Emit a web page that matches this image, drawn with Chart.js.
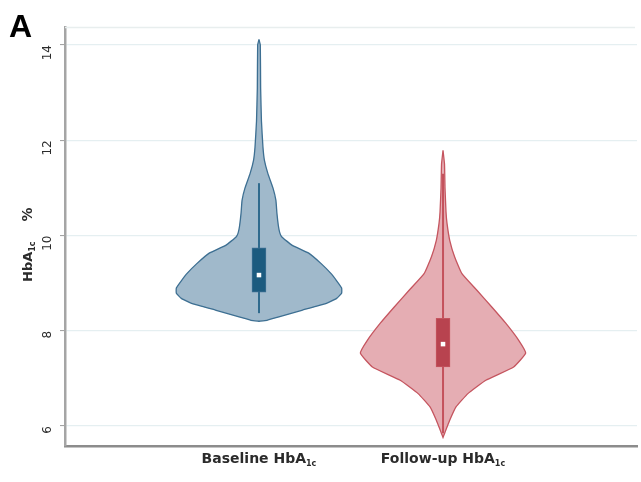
<!DOCTYPE html>
<html>
<head>
<meta charset="utf-8">
<script src="https://cdn.jsdelivr.net/npm/chart.js@4/dist/chart.umd.min.js"></script>
<style>
  html, body { margin: 0; padding: 0; background: #ffffff; }
  #wrap { width: 641px; height: 482px; position: relative; }
</style>
</head>
<body>
<div id="wrap"><canvas id="chart"></canvas></div>
<script>
// Groups and their positions on the x axis
const groupNames = ['Baseline HbA', 'Follow-up HbA'];
const groupPos = [1, 2];
const yTicks = [6, 8, 10, 12, 14];

// Kernel density outline (HbA1c level, relative density 0-100)
const baselineLevels  = [14.12, 14.0, 13.1, 12.4, 11.86, 11.58, 11.3, 11.0, 10.74, 10.47, 10.2, 10.05, 9.97, 9.8, 9.63, 9.4, 9.21, 9.05, 8.9, 8.79, 8.68, 8.57, 8.43, 8.29, 8.22, 8.2];
const baselineDensity = [0, 1.6, 2, 3, 4.8, 6.6, 10.8, 16.9, 20.5, 21.7, 23.5, 25.3, 27.7, 39.8, 60.2, 75.9, 86.7, 94, 100, 100, 94, 80.7, 51.8, 24.1, 9.6, 0];
const followLevels    = [11.79, 11.5, 11.0, 10.5, 10.26, 9.9, 9.55, 9.2, 8.85, 8.5, 8.16, 7.8, 7.53, 7.24, 6.96, 6.68, 6.4, 6.12, 5.85, 5.76];
const followDensity   = [0, 1.8, 2.4, 3.6, 4.8, 8.1, 14.1, 22.9, 41, 59, 75.9, 91.6, 100, 85.5, 51.8, 30.1, 15.7, 8.1, 2, 0];

// Box summaries: lower quartile, median, upper quartile, whisker ends
const q1      = [8.81, 7.24];
const medians = [9.17, 7.72];
const q3      = [9.74, 8.26];
const whiskLo = [8.37, 5.85];
const whiskHi = [11.1, 11.3];

const fills    = ['rgba(160,185,203,1)', 'rgba(229,173,179,1)'];
const outlines = ['#3d6f92', '#c5555f'];
const boxFill  = ['#1c5b7f', '#b8434f'];
const whiskCol = ['#2f6a8d', '#c4525c'];

const HALF_WIDTH = 0.449; // x-units for density 100

function violinPoints(center, levels, dens) {
  const right = levels.map((v, i) => ({ x: center + dens[i] / 100 * HALF_WIDTH, y: v }));
  const left = levels.map((v, i) => ({ x: center - dens[i] / 100 * HALF_WIDTH, y: v })).reverse();
  return right.concat(left);
}

const violinData = [
  violinPoints(groupPos[0], baselineLevels, baselineDensity),
  violinPoints(groupPos[1], followLevels, followDensity)
];

const datasets = [];
for (let g = 0; g < 2; g++) {
  datasets.push({
    type: 'scatter',
    data: violinData[g],
    showLine: true,
    fill: 'shape',
    backgroundColor: fills[g],
    borderColor: outlines[g],
    borderWidth: 1.3,
    tension: 0.12,
    pointRadius: 0,
    order: 10
  });
  datasets.push({
    type: 'scatter',
    data: [{ x: groupPos[g], y: whiskLo[g] }, { x: groupPos[g], y: whiskHi[g] }],
    showLine: true,
    borderColor: whiskCol[g],
    borderWidth: 2,
    pointRadius: 0,
    order: 8
  });
}
datasets.push({
  type: 'bar',
  data: groupPos.map((p, i) => ({ x: p, y: [q1[i], q3[i]] })),
  backgroundColor: boxFill,
  borderColor: outlines,
  borderWidth: 1,
  borderSkipped: false,
  barThickness: 14,
  order: 5
});
datasets.push({
  type: 'scatter',
  data: groupPos.map((p, i) => ({ x: p, y: medians[i] })),
  pointStyle: 'rect',
  pointRadius: 3.2,
  backgroundColor: '#ffffff',
  borderWidth: 0,
  order: 1
});

function drawSubText(ctx, parts, x, y, align) {
  // parts: [{text, font, dy, gap}]
  let total = 0;
  const widths = parts.map(p => {
    ctx.font = p.font;
    const w = ctx.measureText(p.text).width + (p.gap || 0);
    total += w;
    return w;
  });
  let cx = align === 'center' ? x - total / 2 : x;
  parts.forEach((p, i) => {
    ctx.font = p.font;
    ctx.fillText(p.text, cx + (p.gap || 0), y + (p.dy || 0));
    cx += widths[i];
  });
}

const decorations = {
  id: 'decorations',
  beforeDatasetsDraw(chart) {
    const { ctx, chartArea } = chart;
    ctx.save();
    ctx.strokeStyle = '#e8eeee';
    ctx.lineWidth = 1.5;
    ctx.beginPath();
    ctx.moveTo(chartArea.left, chartArea.top + 0.5);
    ctx.lineTo(chartArea.right - 2, chartArea.top + 0.5);
    ctx.stroke();
    ctx.restore();
  },
  afterDraw(chart) {
    const { ctx } = chart;
    const xs = chart.scales.x;
    ctx.save();
    ctx.fillStyle = '#2b2b2b';
    ctx.textBaseline = 'alphabetic';
    const main = 'bold 14px "DejaVu Sans"';
    const sub = 'bold 8px "DejaVu Sans"';
    groupNames.forEach((name, i) => {
      const px = xs.getPixelForValue(groupPos[i]);
      drawSubText(ctx, [
        { text: name, font: main },
        { text: '1c', font: sub, dy: 3 }
      ], px, 463, 'center');
    });
    // y axis title, reading upward
    ctx.save();
    ctx.translate(32, 282);
    ctx.rotate(-Math.PI / 2);
    drawSubText(ctx, [
      { text: 'HbA', font: 'bold 13px "DejaVu Sans"' },
      { text: '1c', font: 'bold 8px "DejaVu Sans"', dy: 3 },
      { text: '%', font: 'bold 14px "DejaVu Sans"', gap: 20 }
    ], 0, 0, 'left');
    ctx.restore();
    // panel letter
    ctx.fillStyle = '#000000';
    ctx.font = 'bold 32px "Liberation Sans"';
    ctx.textAlign = 'left';
    ctx.fillText('A', 9, 37);
    ctx.restore();
  }
};

new Chart(document.getElementById('chart'), {
  type: 'scatter',
  data: { datasets },
  options: {
    responsive: true,
    maintainAspectRatio: false,
    animation: false,
    layout: { padding: { top: 27, right: 1, left: 0, bottom: 0 } },
    plugins: { legend: { display: false }, tooltip: { enabled: false } },
    scales: {
      x: {
        type: 'linear',
        min: -0.054,
        max: 3.054,
        offset: false,
        grid: { display: false },
        border: { display: true, color: '#8c8c8c', width: 2.5 },
        ticks: { display: false },
        afterFit(scale) { scale.height = 36; }
      },
      y: {
        type: 'linear',
        min: 5.58,
        max: 14.38,
        afterBuildTicks(scale) { scale.ticks = yTicks.map(v => ({ value: v })); },
        grid: { color: '#e5eff1', lineWidth: 1.2, drawTicks: true, tickLength: 5, tickColor: '#9a9a9a', tickWidth: 1 },
        border: { display: true, color: '#a5a5a5', width: 2.5 },
        ticks: {
          minRotation: 90,
          maxRotation: 90,
          padding: 12,
          color: '#2b2b2b',
          font: { family: '"DejaVu Sans"', size: 12 },
          callback: v => String(v)
        },
        afterFit(scale) { scale.width = 65; }
      }
    }
  },
  plugins: [decorations]
});
</script>
</body>
</html>
